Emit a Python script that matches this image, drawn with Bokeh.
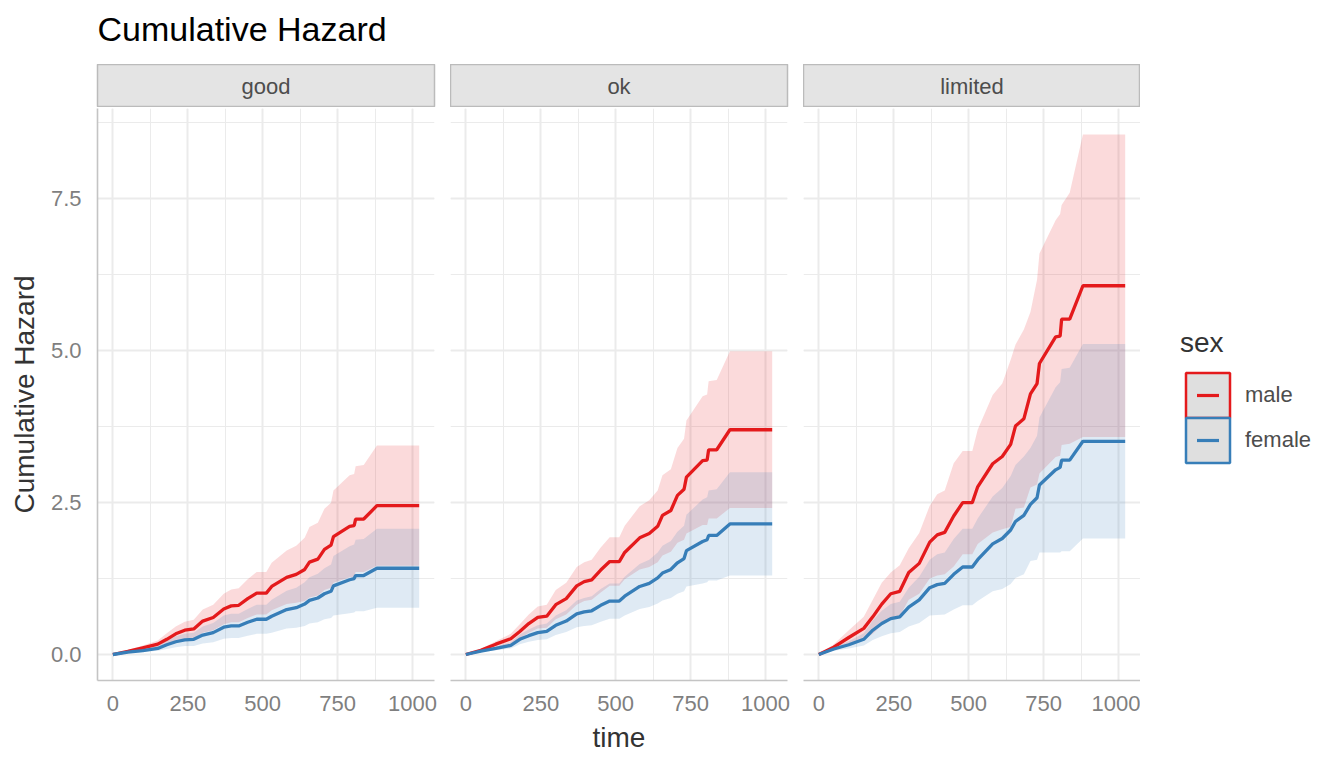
from bokeh.plotting import figure
from bokeh.layouts import row, column
from bokeh.models import (Range1d, SingleIntervalTicker, PrintfTickFormatter, Label,
                          Legend, LegendItem, ColumnDataSource)
from bokeh.embed import file_html
from bokeh.resources import INLINE

FONT = "Liberation Sans"
RED = "#E41A1C"
BLUE = "#377EB8"
NAN = float("nan")

# ---------------- data ----------------
chart_title = "Cumulative Hazard"
panels = ["good", "ok", "limited"]
sexes = ["male", "female"]

time_pts = [0, 50, 100, 150, 180, 210, 240, 270, 300, 335, 370, 395, 420, 450, 480, 512,
            530, 580, 612, 640, 656, 684, 706, 728, 736, 790, 805, 810, 837, 881, 1022]

good_male = [0, 0.05, 0.11, 0.17, 0.25, 0.34, 0.40, 0.42, 0.55, 0.61, 0.75, 0.80, 0.81, 0.92, 1.01, 1.01,
             1.12, 1.27, 1.32, 1.40, 1.52, 1.57, 1.73, 1.80, 1.94, 2.11, 2.12, 2.23, 2.23, 2.45, 2.45]
good_male_hi = [0, 0.07, 0.15, 0.23, 0.35, 0.46, 0.54, 0.57, 0.74, 0.82, 1.00, 1.07, 1.09, 1.24, 1.36, 1.36,
                1.51, 1.71, 1.79, 1.92, 2.10, 2.17, 2.40, 2.50, 2.70, 2.95, 2.97, 3.10, 3.12, 3.44, 3.44]
good_male_lo = [0, 0.03, 0.07, 0.11, 0.15, 0.22, 0.26, 0.27, 0.36, 0.40, 0.50, 0.53, 0.53, 0.60, 0.66, 0.66,
                0.73, 0.83, 0.85, 0.88, 0.94, 0.97, 1.06, 1.10, 1.18, 1.27, 1.27, 1.36, 1.36, 1.46, 1.46]
good_female = [0, 0.04, 0.065, 0.10, 0.16, 0.21, 0.24, 0.25, 0.32, 0.36, 0.45, 0.47, 0.47, 0.53, 0.58, 0.58,
               0.63, 0.74, 0.77, 0.83, 0.89, 0.93, 1.00, 1.04, 1.13, 1.23, 1.25, 1.30, 1.30, 1.42, 1.42]
good_female_hi = [0, 0.055, 0.09, 0.14, 0.23, 0.30, 0.34, 0.36, 0.46, 0.52, 0.64, 0.67, 0.67, 0.75, 0.82, 0.82,
                  0.90, 1.05, 1.10, 1.19, 1.27, 1.33, 1.42, 1.48, 1.62, 1.78, 1.81, 1.89, 1.90, 2.07, 2.07]
good_female_lo = [0, 0.025, 0.04, 0.06, 0.09, 0.12, 0.14, 0.14, 0.18, 0.20, 0.26, 0.27, 0.27, 0.31, 0.34, 0.34,
                  0.36, 0.43, 0.44, 0.47, 0.51, 0.53, 0.58, 0.60, 0.64, 0.68, 0.69, 0.71, 0.71, 0.77, 0.77]

ok_male = [0, 0.07, 0.17, 0.26, 0.38, 0.51, 0.61, 0.63, 0.82, 0.92, 1.13, 1.20, 1.23, 1.39, 1.53, 1.53,
           1.68, 1.92, 1.99, 2.11, 2.29, 2.37, 2.62, 2.72, 2.92, 3.19, 3.20, 3.37, 3.37, 3.70, 3.70]
ok_male_hi = [0, 0.09, 0.22, 0.34, 0.50, 0.66, 0.79, 0.82, 1.06, 1.18, 1.44, 1.52, 1.56, 1.76, 1.93, 1.93,
              2.12, 2.44, 2.54, 2.70, 2.95, 3.05, 3.40, 3.55, 3.85, 4.25, 4.28, 4.50, 4.52, 4.99, 4.99]
ok_male_lo = [0, 0.05, 0.12, 0.18, 0.26, 0.36, 0.43, 0.44, 0.58, 0.66, 0.82, 0.88, 0.90, 1.02, 1.13, 1.13,
              1.24, 1.40, 1.44, 1.52, 1.63, 1.69, 1.84, 1.89, 1.99, 2.13, 2.13, 2.24, 2.24, 2.41, 2.41]
ok_female = [0, 0.055, 0.10, 0.15, 0.25, 0.31, 0.36, 0.38, 0.48, 0.55, 0.67, 0.70, 0.72, 0.81, 0.88, 0.88,
             0.96, 1.12, 1.17, 1.26, 1.34, 1.40, 1.51, 1.58, 1.71, 1.86, 1.89, 1.96, 1.96, 2.15, 2.15]
ok_female_hi = [0, 0.07, 0.13, 0.20, 0.33, 0.41, 0.48, 0.51, 0.64, 0.73, 0.89, 0.93, 0.96, 1.08, 1.17, 1.17,
                1.28, 1.49, 1.56, 1.68, 1.79, 1.87, 2.02, 2.12, 2.30, 2.55, 2.59, 2.70, 2.72, 3.00, 3.00]
ok_female_lo = [0, 0.04, 0.07, 0.10, 0.17, 0.21, 0.24, 0.25, 0.32, 0.37, 0.45, 0.47, 0.48, 0.54, 0.59, 0.59,
                0.64, 0.75, 0.78, 0.84, 0.89, 0.93, 1.00, 1.04, 1.12, 1.17, 1.19, 1.22, 1.22, 1.30, 1.30]

limited_male = [0, 0.12, 0.28, 0.43, 0.62, 0.83, 1.00, 1.04, 1.35, 1.50, 1.85, 1.97, 2.01, 2.28, 2.50, 2.50,
                2.76, 3.14, 3.26, 3.46, 3.76, 3.88, 4.29, 4.46, 4.79, 5.23, 5.24, 5.52, 5.52, 6.07, 6.07]
limited_male_hi = [0, 0.17, 0.40, 0.62, 0.90, 1.18, 1.35, 1.47, 1.75, 2.00, 2.45, 2.64, 2.70, 3.15, 3.35, 3.35,
                   3.70, 4.27, 4.46, 4.85, 5.10, 5.35, 5.64, 6.17, 6.60, 7.15, 7.25, 7.40, 7.60, 8.56, 8.56]
limited_male_lo = [0, 0.07, 0.16, 0.24, 0.34, 0.48, 0.60, 0.63, 0.90, 1.00, 1.25, 1.30, 1.32, 1.45, 1.65, 1.65,
                   1.82, 2.01, 2.06, 2.10, 2.40, 2.42, 2.75, 2.80, 2.98, 3.25, 3.27, 3.45, 3.47, 3.58, 3.58]
limited_female = [0, 0.09, 0.16, 0.25, 0.40, 0.51, 0.59, 0.62, 0.78, 0.90, 1.10, 1.15, 1.17, 1.32, 1.44, 1.44,
                  1.56, 1.82, 1.91, 2.05, 2.19, 2.29, 2.47, 2.58, 2.79, 3.04, 3.08, 3.20, 3.20, 3.51, 3.51]
limited_female_hi = [0, 0.12, 0.22, 0.35, 0.56, 0.72, 0.83, 0.87, 1.10, 1.28, 1.56, 1.65, 1.68, 1.90, 2.07, 2.07,
                     2.24, 2.60, 2.74, 2.94, 3.12, 3.26, 3.40, 3.60, 3.90, 4.40, 4.48, 4.70, 4.72, 5.11, 5.11]
limited_female_lo = [0, 0.06, 0.10, 0.15, 0.24, 0.30, 0.35, 0.37, 0.46, 0.52, 0.64, 0.65, 0.66, 0.74, 0.81, 0.81,
                     0.88, 1.04, 1.08, 1.16, 1.26, 1.32, 1.54, 1.56, 1.68, 1.68, 1.68, 1.70, 1.70, 1.91, 1.91]

x_ticks_interval = 250
y_ticks_interval = 2.5

# ---------------- layout constants ----------------
FRAME_W = 337
FRAME_H = 572
STRIP_H = 43
HEADER_H = 64
BOTTOM = 80
LEFT = 97
GAP = 16
X_RANGE = (-51.1, 1073.1)
Y_RANGE = (-0.428, 8.988)
GRID = "#EBEBEB"

COMMON = dict(toolbar_location=None, output_backend="svg")

# ---------------- header (title) ----------------
# frame covers the whole header; y range in pixels measured from its bottom
hdr = figure(frame_width=FRAME_W + 200, frame_height=HEADER_H, min_border_left=LEFT,
             min_border_right=0, min_border_top=0, min_border_bottom=0,
             x_range=Range1d(0, FRAME_W + 200), y_range=Range1d(0, HEADER_H),
             x_axis_location=None, y_axis_location=None,
             outline_line_color=None, **COMMON)
hdr.grid.visible = False
hdr.add_layout(Label(x=0, y=36, text=chart_title, text_align="left",
                     text_baseline="alphabetic", text_font=FONT,
                     text_font_size="34px", text_color="#000000"))


def make_strip(name, left, right):
    s = figure(frame_width=FRAME_W, frame_height=STRIP_H,
               min_border_left=left, min_border_right=right,
               min_border_top=0, min_border_bottom=0,
               x_range=Range1d(0, 1), y_range=Range1d(0, 1),
               x_axis_location=None, y_axis_location=None,
               background_fill_color="#E4E4E4",
               outline_line_color="#BBBBBB", outline_line_width=1.5, **COMMON)
    s.grid.visible = False
    s.add_layout(Label(x=0.5, y=0.5, text=name, text_align="center",
                       text_baseline="middle", text_font=FONT,
                       text_font_size="22px", text_color="#4D4D4D"))
    return s


def make_panel(m, m_lo, m_hi, f, f_lo, f_hi, left, right, show_y, xlabel):
    p = figure(frame_width=FRAME_W, frame_height=FRAME_H,
               min_border_left=left, min_border_right=right,
               min_border_top=1, min_border_bottom=BOTTOM,
               x_range=Range1d(*X_RANGE), y_range=Range1d(*Y_RANGE),
               y_axis_location="left" if show_y else None,
               outline_line_color=None, **COMMON)
    src = ColumnDataSource(dict(time=time_pts, m=m, m_lo=m_lo, m_hi=m_hi,
                                f=f, f_lo=f_lo, f_hi=f_hi))
    p.varea(x="time", y1="m_lo", y2="m_hi", source=src, fill_color=RED, fill_alpha=0.16)
    p.varea(x="time", y1="f_lo", y2="f_hi", source=src, fill_color=BLUE, fill_alpha=0.16)
    p.line("time", "m", source=src, line_color=RED, line_width=3.3)
    p.line("time", "f", source=src, line_color=BLUE, line_width=3.3)

    xt = SingleIntervalTicker(interval=x_ticks_interval, num_minor_ticks=2)
    yt = SingleIntervalTicker(interval=y_ticks_interval, num_minor_ticks=2)
    p.xaxis.ticker = xt
    p.xgrid.ticker = xt
    p.ygrid.ticker = yt
    for g in (p.xgrid, p.ygrid):
        g.grid_line_color = GRID
        g.grid_line_width = 2
        g.minor_grid_line_color = GRID
        g.minor_grid_line_width = 1

    axes = list(p.xaxis)
    if show_y:
        p.yaxis.ticker = yt
        p.yaxis.formatter = PrintfTickFormatter(format="%.1f")
        p.yaxis.axis_label = "Cumulative Hazard"
        p.yaxis.major_label_standoff = 16
        p.yaxis.axis_label_standoff = 8
        axes += list(p.yaxis)
    p.xaxis.major_label_standoff = 15
    p.xaxis.axis_label_standoff = 8
    if xlabel:
        p.xaxis.axis_label = xlabel
    for ax in axes:
        ax.axis_line_color = "#C4C4C4"
        ax.axis_line_width = 1.6
        ax.major_tick_line_color = None
        ax.minor_tick_line_color = None
        ax.major_tick_out = 0
        ax.major_tick_in = 0
        ax.minor_tick_out = 0
        ax.minor_tick_in = 0
        ax.major_label_text_font = FONT
        ax.major_label_text_font_size = "22px"
        ax.major_label_text_color = "#7F7F7F"
        ax.axis_label_text_font = FONT
        ax.axis_label_text_font_size = "28px"
        ax.axis_label_text_font_style = "normal"
        ax.axis_label_text_color = "#333333"
    return p


s1 = make_strip(panels[0], LEFT, GAP)
s2 = make_strip(panels[1], 0, GAP)
s3 = make_strip(panels[2], 0, 0)

p1 = make_panel(good_male, good_male_lo, good_male_hi,
                good_female, good_female_lo, good_female_hi, LEFT, GAP, True, None)
p2 = make_panel(ok_male, ok_male_lo, ok_male_hi,
                ok_female, ok_female_lo, ok_female_hi, 0, GAP, False, "time")
p3 = make_panel(limited_male, limited_male_lo, limited_male_hi,
                limited_female, limited_female_lo, limited_female_hi, 0, 0, False, None)

# ---------------- legend ----------------
lf = figure(frame_width=190, frame_height=FRAME_H,
            min_border_left=0, min_border_right=0,
            min_border_top=1, min_border_bottom=BOTTOM,
            x_range=Range1d(0, 1), y_range=Range1d(0, 1),
            x_axis_location=None, y_axis_location=None,
            outline_line_color=None, **COMMON)
lf.grid.visible = False
colors = [RED, BLUE]
items = []
for sex, col in zip(sexes, colors):
    q = lf.quad(left=[NAN], right=[NAN], top=[NAN], bottom=[NAN], fill_color="#DFDFDF",
                line_color=col, line_width=2.5)
    d = lf.scatter(x=[NAN], y=[NAN], marker="dash", line_color=col, line_width=3.2, size=10)
    items.append(LegendItem(label=sex, renderers=[q, d]))

legend_style = dict(padding=0, margin=0,
                    label_text_font=FONT, label_text_font_size="22px",
                    label_text_color="#4D4D4D",
                    glyph_width=55, glyph_height=56, spacing=0, label_standoff=10,
                    border_line_color=None, background_fill_alpha=0)
legend_male = Legend(items=[items[0]], location=(40, 257),
                     title="sex", title_text_font=FONT, title_text_font_size="28px",
                     title_text_font_style="normal", title_text_color="#333333",
                     title_standoff=8, **legend_style)
legend_female = Legend(items=[items[1]], location=(40, 212), **legend_style)
lf.add_layout(legend_male)
lf.add_layout(legend_female)

layout = column(hdr, row(s1, s2, s3), row(p1, p2, p3, lf))

open("out.html", "w").write(file_html(layout, INLINE))
